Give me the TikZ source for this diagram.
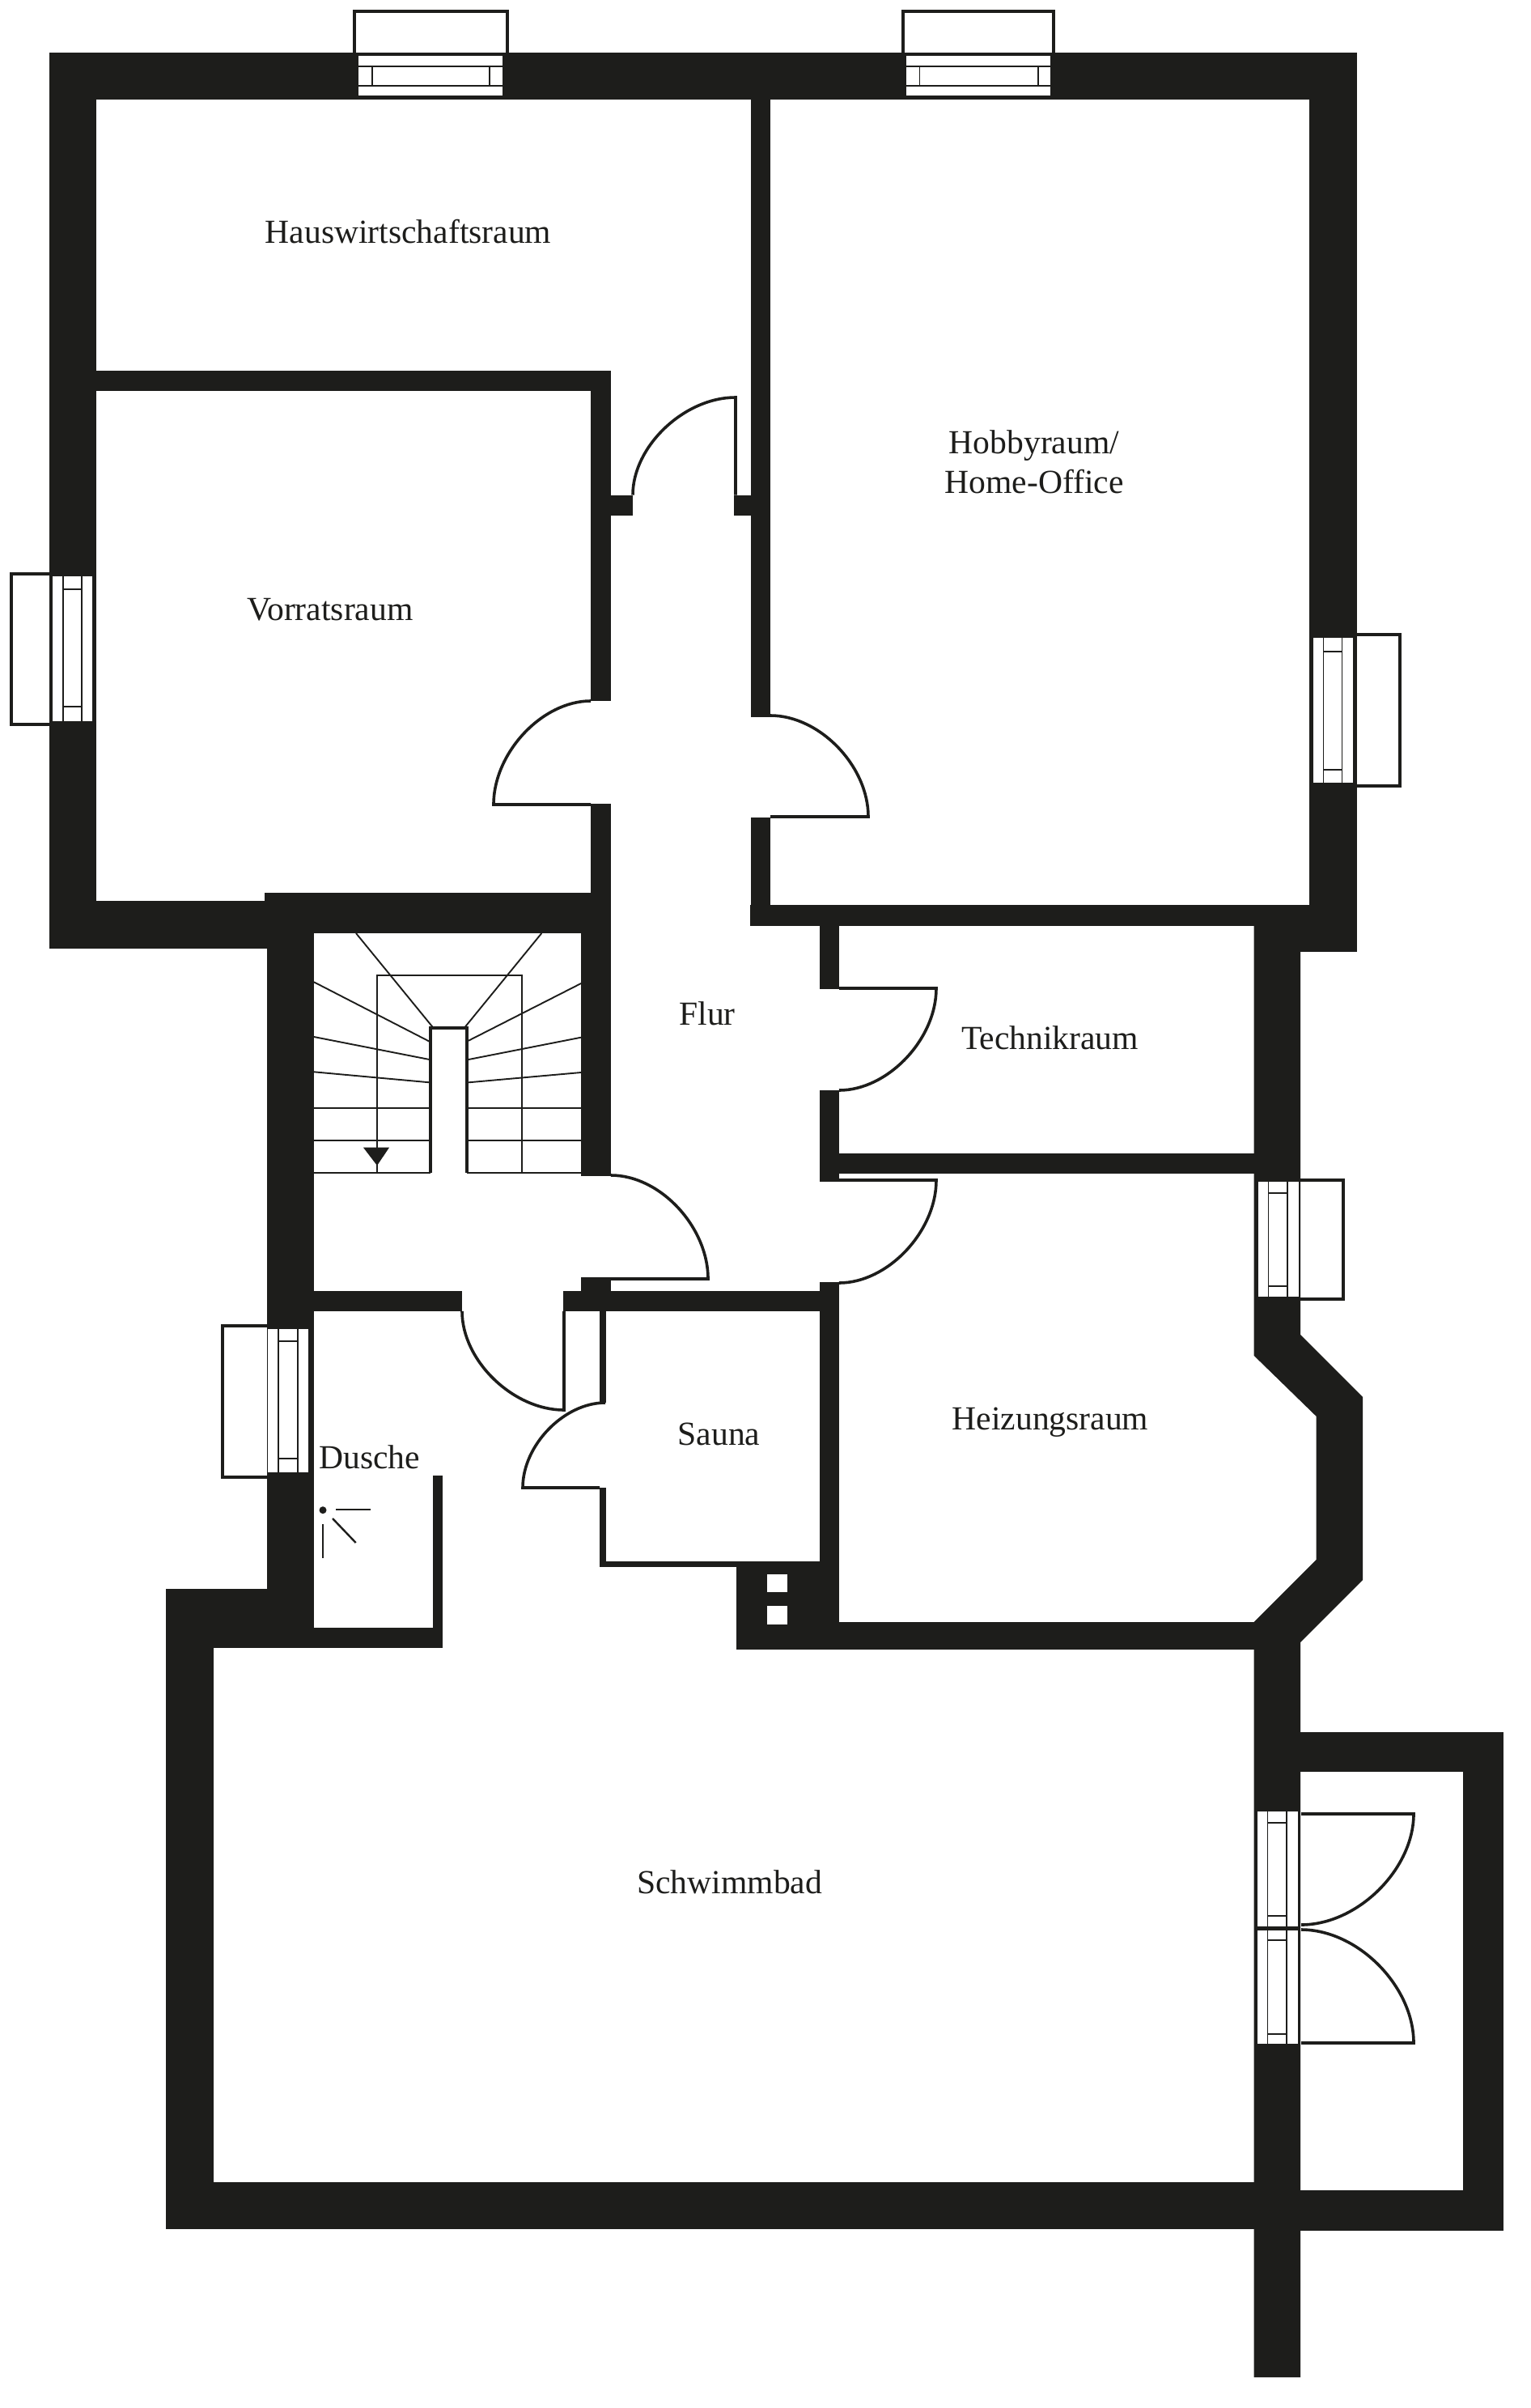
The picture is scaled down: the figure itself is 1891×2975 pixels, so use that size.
\documentclass[tikz,border=0pt]{standalone}
\usepackage{fontspec}
\setmainfont{Liberation Serif}
\definecolor{wallc}{HTML}{1D1D1B}
\tikzset{
  wallpart/.style={fill=wallc,draw=none},
  opening/.style={fill=white,draw=none},
  glazing/.style={draw=wallc,line width=0.65pt},
  ledge/.style={draw=wallc,line width=2pt,line cap=butt,line join=miter},
  doorleaf/.style={draw=wallc,line width=1.8pt,line join=miter,fill=none},
  stepline/.style={draw=wallc,line width=0.95pt},
  newel/.style={draw=wallc,line width=2pt},
  showerline/.style={draw=wallc,line width=1.2pt},
  roomlabel/.style={anchor=base,inner sep=0pt,outer sep=0pt,text=wallc,font=\fontsize{20.8pt}{25pt}\selectfont}
}
\begin{document}
\begin{tikzpicture}[x=0.5pt,y=-0.5pt]
\useasboundingbox (0,0) rectangle (1891,2975);
\fill[white] (0,0) rectangle (1891,2975);
% outer walls, upper floor block
\fill[wallpart] (60.6,65) rectangle (1677,123);
\fill[wallpart] (60.6,65) rectangle (119,1171.6);
\fill[wallpart] (1618,65) rectangle (1677,1176);
\fill[wallpart] (1600,1118) rectangle (1677,1176);
% central wall
\fill[wallpart] (928,123) rectangle (952,886);
\fill[wallpart] (928,1010) rectangle (952,1143.5);
% Hauswirtschaft / Vorrat
\fill[wallpart] (119,458) rectangle (755,483);
\fill[wallpart] (730,458) rectangle (755,866);
\fill[wallpart] (730,992.5) rectangle (755,1153);
\fill[wallpart] (755,611.5) rectangle (782,637);
\fill[wallpart] (907,611.5) rectangle (928,637);
% Vorrat bottom, stair block
\fill[wallpart] (60.6,1113) rectangle (330,1171.6);
\fill[wallpart] (327,1103) rectangle (755,1153);
\fill[wallpart] (330,1153) rectangle (388,2036);
\fill[wallpart] (718,1153) rectangle (755,1453);
% hall / Dusche / Sauna top walls
\fill[wallpart] (388,1594.6) rectangle (571,1620);
\fill[wallpart] (695.6,1594.6) rectangle (1013,1620);
\fill[wallpart] (718,1578) rectangle (755,1596);
% Technik, Heizung
\fill[wallpart] (927,1118) rectangle (1618,1143.5);
\fill[wallpart] (1013,1143) rectangle (1037,1222);
\fill[wallpart] (1013,1346.5) rectangle (1037,1460);
\fill[wallpart] (1013,1584) rectangle (1037,2037.5);
\fill[wallpart] (1037,1425) rectangle (1549.5,1449.6);
\fill[wallpart] (910,2004) rectangle (1549.5,2037.5);
% east wall with bay and stem
\fill[wallpart] (1549.5,1118) -- (1607,1118) -- (1607,1649) -- (1684,1726) -- (1684,1952)
  -- (1607,2029) -- (1607,2937) -- (1549.5,2937) -- (1549.5,2004) -- (1626.5,1927)
  -- (1626.5,1749.7) -- (1549.5,1674.7) -- cycle;
% Sauna and chimney
\fill[wallpart] (740.5,1620) rectangle (748.6,1733.4);
\fill[wallpart] (740.5,1837.6) rectangle (748.6,1936);
\fill[wallpart] (740.5,1929) rectangle (1037,1936);
\fill[wallpart] (910,1929) rectangle (1037,2037.5);
\fill[opening] (947.6,1944.6) rectangle (972.5,1967.4);
\fill[opening] (947.6,1984) rectangle (972.5,2007);
% Dusche
\fill[wallpart] (534.5,1823) rectangle (546.5,2036);
\fill[wallpart] (388,2010.5) rectangle (546.5,2036);
% Schwimmbad
\fill[wallpart] (205,1963) rectangle (388,2036);
\fill[wallpart] (205,1963) rectangle (264,2754);
\fill[wallpart] (205,2696) rectangle (1549.5,2754);
% annex
\fill[wallpart] (1607,2140) rectangle (1857.7,2189);
\fill[wallpart] (1807.7,2140) rectangle (1857.7,2756);
\fill[wallpart] (1607,2706) rectangle (1857.7,2756);
% window top left
\fill[opening] (443,69) rectangle (621,118);
\draw[glazing] (443,82) -- (621,82) (443,106) -- (621,106) (460,82) -- (460,106) (605,82) -- (605,106);
\draw[ledge] (438,65) -- (438,14.5) -- (627,14.5) -- (627,65);
% window top right
\fill[opening] (1120,69) rectangle (1298,118);
\draw[glazing] (1120,82) -- (1298,82) (1120,106) -- (1298,106) (1136.5,82) -- (1136.5,106) (1283,82) -- (1283,106);
\draw[ledge] (1116,65) -- (1116,14.5) -- (1302,14.5) -- (1302,65);
% window west
\fill[opening] (65,712) rectangle (114.3,890.7);
\draw[glazing] (78,712) -- (78,890.7) (101,712) -- (101,890.7) (78,728) -- (101,728) (78,873) -- (101,873);
\draw[ledge] (60.6,708.7) -- (14.3,708.7) -- (14.3,895) -- (60.6,895);
% window east (Hobby)
\fill[opening] (1622.7,788) rectangle (1672,966.7);
\draw[glazing] (1635.7,788) -- (1635.7,966.7) (1658.7,788) -- (1658.7,966.7) (1635.7,805) -- (1658.7,805) (1635.7,951) -- (1658.7,951);
\draw[ledge] (1676,784) -- (1729.7,784) -- (1729.7,971) -- (1676,971);
% window Dusche
\fill[opening] (331,1642) rectangle (380.6,1819);
\draw[glazing] (344,1642) -- (344,1819) (368,1642) -- (368,1819) (344,1657) -- (368,1657) (344,1802) -- (368,1802);
\draw[ledge] (330,1638) -- (275,1638) -- (275,1825) -- (330,1825);
% window Heizung
\fill[opening] (1555,1460) rectangle (1604.6,1602);
\draw[glazing] (1567.7,1460) -- (1567.7,1602) (1591,1460) -- (1591,1602) (1567.7,1474) -- (1591,1474) (1567.7,1589) -- (1591,1589);
\draw[ledge] (1607,1458) -- (1659.6,1458) -- (1659.6,1605) -- (1607,1605);
% double door in the east wall
\fill[opening] (1554,2238) rectangle (1604,2380);
\fill[opening] (1554,2385) rectangle (1604,2525);
\draw[glazing] (1566.7,2238) -- (1566.7,2525) (1590,2238) -- (1590,2525)
  (1566.7,2252) -- (1590,2252) (1566.7,2367) -- (1590,2367) (1566.7,2397) -- (1590,2397) (1566.7,2513) -- (1590,2513);
\draw[doorleaf] (1608,2378) .. controls (1678,2378) and (1747,2309) .. (1747,2241) -- (1608,2241);
\draw[doorleaf] (1608,2384) .. controls (1678,2384) and (1747,2454) .. (1747,2524) -- (1608,2524);
% doors
\draw[doorleaf] (909,611.5) -- (909,491) .. controls (845.5,491) and (782,551.5) .. (782,611.5);
\draw[doorleaf] (730,866) .. controls (670,866) and (610,930) .. (610,994) -- (730,994);
\draw[doorleaf] (952,884) .. controls (1013,884) and (1073,946.5) .. (1073,1009) -- (952,1009);
\draw[doorleaf] (755,1452) .. controls (816,1452) and (875,1516) .. (875,1580) -- (755,1580);
\draw[doorleaf] (571,1620) .. controls (571,1681) and (634,1742) .. (697,1742) -- (697,1620);
\draw[doorleaf] (748,1733) .. controls (697,1733) and (646,1785.5) .. (646,1838) -- (741,1838);
\draw[doorleaf] (1037,1221) -- (1157,1221) .. controls (1157,1284) and (1097,1347) .. (1037,1347);
\draw[doorleaf] (1037,1458) -- (1157,1458) .. controls (1157,1521.5) and (1097,1585) .. (1037,1585);
% stairs
\draw[stepline] (388,1449) -- (532,1449) (577,1449) -- (718,1449);
\draw[stepline] (388,1409.3) -- (532,1409.3) (577,1409.3) -- (718,1409.3);
\draw[stepline] (388,1369.3) -- (532,1369.3) (577,1369.3) -- (718,1369.3);
\draw[stepline] (388,1324.3) -- (530.7,1337.3) (579,1337.3) -- (718,1325);
\draw[stepline] (388,1281) -- (530.7,1309) (579,1309) -- (718,1281.7);
\draw[stepline] (388,1213.3) -- (530.7,1286.7) (579,1285.7) -- (718,1215);
\draw[stepline] (440,1153) -- (535,1269.3) (574.3,1269.3) -- (669.3,1153);
\draw[newel] (532,1449) -- (532,1270) -- (576.7,1270) -- (576.7,1449);
\draw[stepline] (466,1449) -- (466,1205) -- (645,1205) -- (645,1449);
\fill[wallpart] (449,1417.7) -- (481,1417.7) -- (466,1440) -- cycle;
% shower symbol
\fill[wallpart] (399,1865.7) circle[radius=4.5];
\draw[showerline] (415,1865) -- (457.6,1865);
\draw[showerline] (399,1883) -- (399,1924.6);
\draw[showerline] (411,1876) -- (439.7,1906);
% labels
\node[roomlabel] (hausw) at (504.5,300.6) {Hauswirtschaftsraum};
\node[roomlabel] (hobby1) at (1278,560.5) {Hobbyraum/};
\node[roomlabel] (hobby2) at (1278,609.5) {Home-Office};
\node[roomlabel] (vorrat) at (408,766.7) {Vorratsraum};
\node[roomlabel] (flur) at (874,1266.8) {Flur};
\node[roomlabel] (technik) at (1297.6,1296) {Technikraum};
\node[roomlabel] (heizung) at (1298,1766) {Heizungsraum};
\node[roomlabel] (sauna) at (888.6,1785) {Sauna};
\node[roomlabel] (dusche) at (456.7,1814.8) {Dusche};
\node[roomlabel] (schwimm) at (901.7,2339) {Schwimmbad};
\end{tikzpicture}
\end{document}
